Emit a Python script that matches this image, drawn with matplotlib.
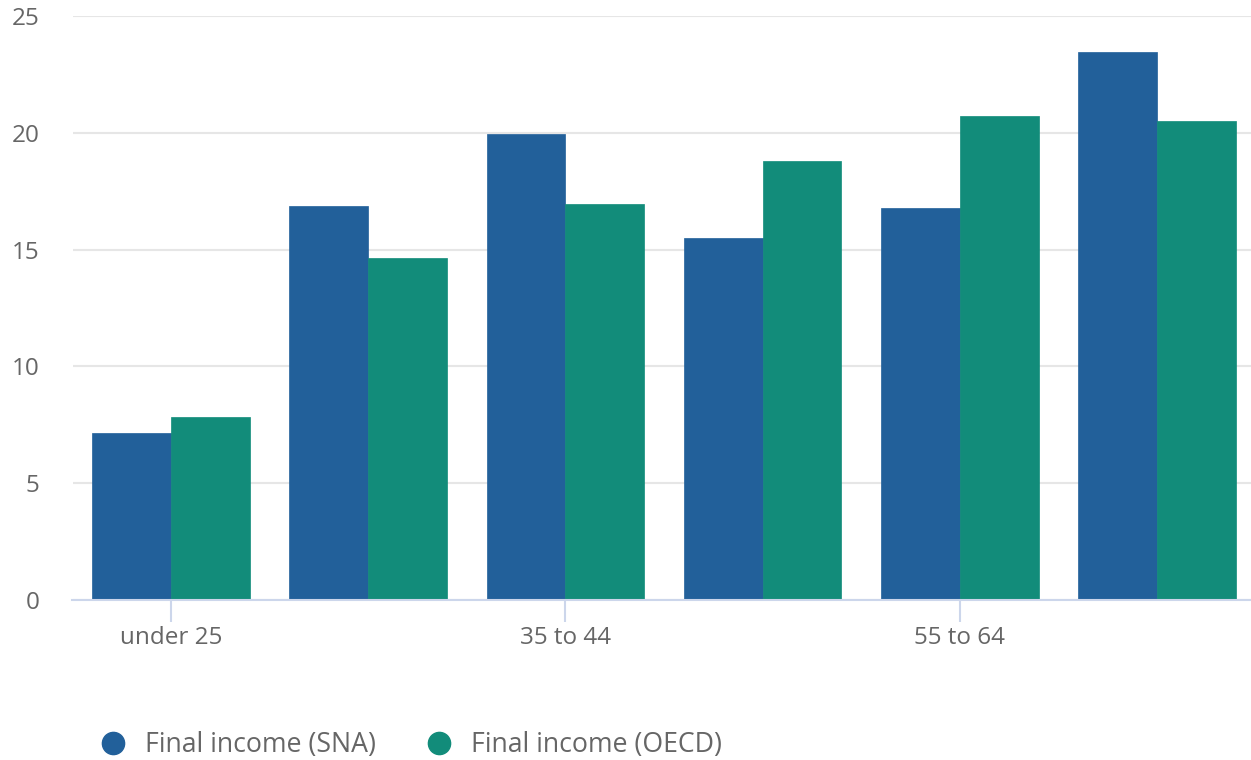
import matplotlib
matplotlib.use("Agg")
import matplotlib.pyplot as plt
from matplotlib.lines import Line2D
import numpy as np

categories = ["under 25", "25 to 34", "35 to 44", "45 to 54", "55 to 64", "65 and over"]
shown_labels = ["under 25", "", "35 to 44", "", "55 to 64", ""]
sna = [7.15, 16.85, 19.95, 15.5, 16.78, 23.48]
oecd = [7.82, 14.65, 16.95, 18.78, 20.7, 20.5]
series_names = ["Final income (SNA)", "Final income (OECD)"]
colors = ["#22609a", "#128c7a"]
yticks = [0, 5, 10, 15, 20, 25]

plt.rcParams['font.family'] = ['Open Sans', 'DejaVu Sans']

fig = plt.figure(figsize=(12.51, 7.6), dpi=100)
ax = fig.add_axes([72.5/1251, 160/760, 1183/1251, 584/760])

x = np.arange(len(categories))
w = 0.4
ax.bar(x - w/2, sna, width=w, align='center', color=colors[0], edgecolor=colors[0], linewidth=0.5)
ax.bar(x + w/2, oecd, width=w, align='center', color=colors[1], edgecolor=colors[1], linewidth=0.5)

ax.set_xlim(-0.5, len(categories) - 0.5)
ax.set_ylim(0, 25)
ax.set_yticks(yticks)
ax.set_yticklabels([str(v) for v in yticks])
ax.yaxis.grid(True, color="#e6e6e6", linewidth=1.5)
ax.set_axisbelow(True)

ax.set_xticks(x[::2])
ax.set_xticklabels(shown_labels[::2])

for s in ["top", "right", "left"]:
    ax.spines[s].set_visible(False)
ax.spines["bottom"].set_color("#ccd6eb")
ax.spines["bottom"].set_linewidth(1.5)

ax.tick_params(axis='y', length=0, pad=24, labelsize=17.5, labelcolor="#666666")
ax.tick_params(axis='x', length=16, width=1.5, color="#ccd6eb", pad=3, labelsize=17.5, labelcolor="#666666")

handles = [Line2D([0], [0], marker='o', linestyle='', markersize=16, markerfacecolor=c, markeredgecolor=c) for c in colors]
fig.legend(handles, series_names, loc='center left', bbox_to_anchor=(76/1251, 1 - 745/760),
           ncol=2, frameon=False, fontsize=19.2, labelcolor="#666666",
           handletextpad=0.7, columnspacing=1.86, handlelength=1.0)

fig.savefig("out.png", dpi=100)
